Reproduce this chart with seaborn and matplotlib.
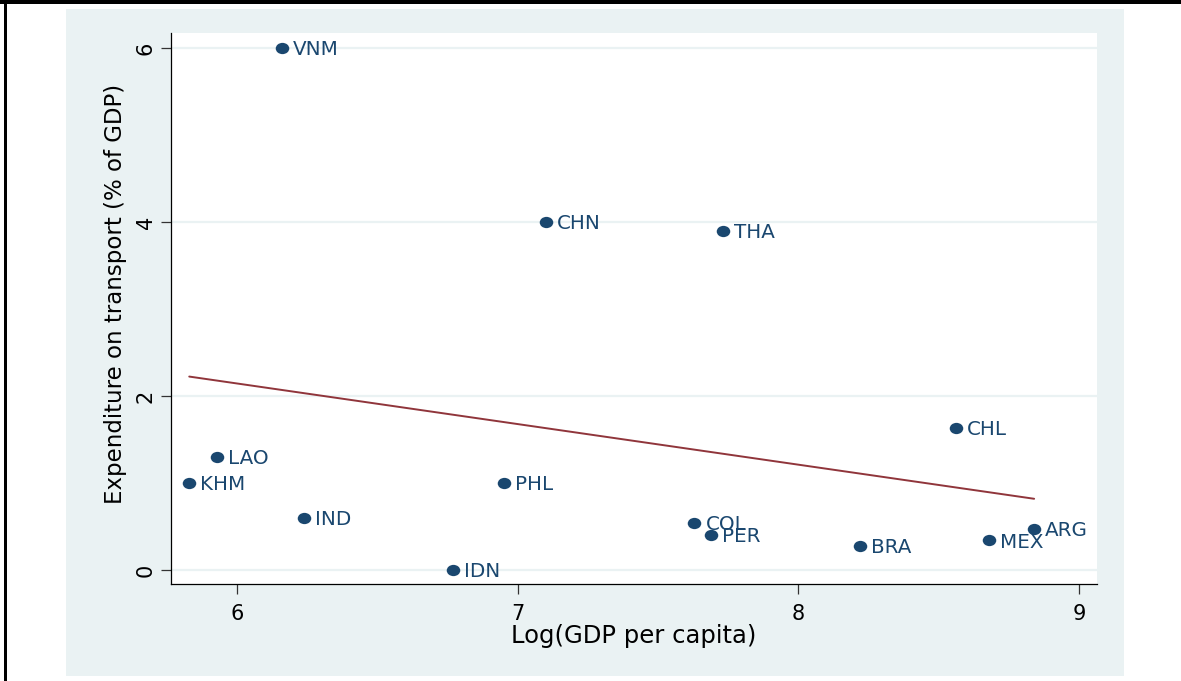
import numpy as np
import pandas as pd
import matplotlib
matplotlib.use("Agg")
import matplotlib.pyplot as plt
from matplotlib.patches import Rectangle
from matplotlib.path import Path
from matplotlib.transforms import Affine2D
import seaborn as sns

# Country codes, log GDP per capita and transport expenditure (% of GDP)
countries = ["VNM", "CHN", "THA", "CHL", "LAO", "KHM", "PHL",
             "IND", "IDN", "COL", "PER", "BRA", "MEX", "ARG"]
log_gdp = [6.16, 7.10, 7.73, 8.56, 5.93, 5.83, 6.95,
           6.24, 6.77, 7.63, 7.69, 8.22, 8.68, 8.84]
transport = [6.00, 4.00, 3.90, 1.63, 1.30, 1.00, 1.00,
             0.60, 0.00, 0.54, 0.40, 0.28, 0.34, 0.47]

x_ticks = [6, 7, 8, 9]
y_ticks = [0, 2, 4, 6]
x_title = "Log(GDP per capita)"
y_title = "Expenditure on transport (% of GDP)"

df = pd.DataFrame({"country": countries, "log_gdp": log_gdp, "transport": transport})

NAVY = "#1A476F"
MAROON = "#90353B"
REGION = "#EAF2F3"

sns.set_theme(style="white")
plt.rcParams["font.family"] = ["DejaVu Sans"]

W, H = 1181, 681
fig = plt.figure(figsize=(W / 100, H / 100), dpi=100, facecolor="white")

# outer graph region
fig.add_artist(Rectangle((66 / W, 1 - 676 / H), (1124 - 66) / W, (676 - 9) / H,
                         transform=fig.transFigure, facecolor=REGION,
                         edgecolor="none", zorder=-1))
# frame lines along the top and left edges
fig.add_artist(Rectangle((0, 1 - 3.5 / H), 1, 3.5 / H, transform=fig.transFigure,
                         facecolor="black", edgecolor="none", zorder=10))
fig.add_artist(Rectangle((4 / W, 0), 2.5 / W, 1, transform=fig.transFigure,
                         facecolor="black", edgecolor="none", zorder=10))

ax = fig.add_axes([171 / W, 1 - 584 / H, (1097 - 171) / W, (584 - 33) / H])
ax.set_facecolor("white")

# slightly wide circular marker
ell = Path.unit_circle().transformed(Affine2D().scale(1.2, 1.0))

sns.regplot(data=df, x="log_gdp", y="transport", scatter=False, ci=None,
            truncate=True, ax=ax, line_kws={"color": MAROON, "lw": 1.4, "zorder": 2})
sns.scatterplot(data=df, x="log_gdp", y="transport", ax=ax, marker=ell, s=95,
                color=NAVY, edgecolor=NAVY, linewidth=0, zorder=3)

for c, xv, yv in zip(countries, log_gdp, transport):
    ax.annotate(c, (xv, yv), xytext=(8, -5.2), textcoords="offset points",
                ha="left", va="baseline", color=NAVY, fontsize=14.3, zorder=4)

ax.set_xlim(5.765, 9.064)
ax.set_ylim(-0.161, 6.172)
ax.set_xticks(x_ticks)
ax.set_yticks(y_ticks)
ax.set_xticklabels([str(v) for v in x_ticks])
ax.set_yticklabels([str(v) for v in y_ticks], rotation=90, va="center")

ax.grid(False)
for v in y_ticks:
    ax.axhline(v, color=REGION, lw=1.6, zorder=0)

for side in ["top", "right"]:
    ax.spines[side].set_visible(False)
for side in ["left", "bottom"]:
    ax.spines[side].set_color("black")
    ax.spines[side].set_linewidth(0.9)

ax.tick_params(axis="both", which="major", direction="out", length=7.5, width=0.9,
               color="#333333", labelsize=15, labelcolor="black",
               bottom=True, left=True)
ax.tick_params(axis="x", pad=6.8)
ax.tick_params(axis="y", pad=3.5)

ax.set_xlabel(x_title, fontsize=17.5, color="black")
ax.set_ylabel(y_title, fontsize=16.5, color="black")
ax.xaxis.set_label_coords(0.5, (584 - 624) / 551)
ax.yaxis.set_label_coords((127 - 171) / 926, (584 - 294) / 551)

fig.savefig("out.png", dpi=100, facecolor="white")
